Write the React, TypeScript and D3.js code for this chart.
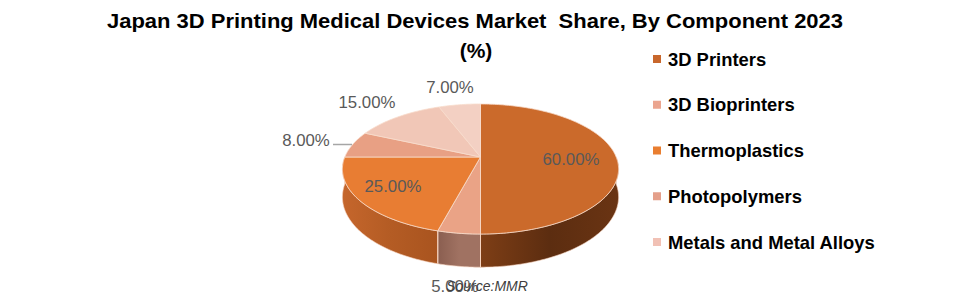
import React from "react";
import * as d3 from "d3";

const categories = ["3D Printers", "3D Bioprinters", "Thermoplastics", "Photopolymers", "Metals and Metal Alloys", ""];
const values = [60, 5, 25, 8, 15, 7];
const labels = ["60.00%", "5.00%", "25.00%", "8.00%", "15.00%", "7.00%"];
const legendItems = ["3D Printers", "3D Bioprinters", "Thermoplastics", "Photopolymers", "Metals and Metal Alloys"];
const topColors = ["#CB6A2B", "#EAA386", "#E87D33", "#E8A084", "#F1C7B7", "#F3D0C3"];
const legendColors = ["#C8672C", "#EBA58F", "#E97E30", "#E49F8A", "#F1C1B5"];
const sideStops: string[][] = [
  ["#7E3E16", "#5C2D10", "#6A3413"],
  ["#8A5E50", "#A07262", "#A07262"],
  ["#C5662C", "#B45C24", "#A9541F"],
  ["#C98A72", "#C98A72", "#C98A72"],
  ["#D2A898", "#D2A898", "#D2A898"],
  ["#D8AFA0", "#D8AFA0", "#D8AFA0"],
];
// label anchor positions (centres)
const labelPos: [number, number][] = [
  [571, 159],
  [455, 286],
  [393, 186],
  [306, 140],
  [367, 102],
  [450, 87],
];

const W = 961;
const H = 303;
const cx = 480.5;
const cy = 157;
const rx = 135.7;
const ry = 62.8;
const persp = 0.185;
const depth = 27;

function proj(theta: number, h = 0): [number, number] {
  const X = Math.sin(theta);
  const Z = Math.cos(theta);
  const w = 1 / (1 + persp * Z);
  return [cx + rx * X * w, cy - ry * Z * w + h * w];
}

function arcPoints(a0: number, a1: number, h = 0): [number, number][] {
  const n = Math.max(2, Math.ceil(((a1 - a0) / Math.PI) * 180));
  return d3.range(n + 1).map((i) => proj(a0 + ((a1 - a0) * i) / n, h));
}

const line = d3.line<[number, number]>().x((d) => d[0]).y((d) => d[1]);

export default function App() {
  const pie = d3
    .pie<number>()
    .sort(null)
    .startAngle(0)
    .endAngle(2 * Math.PI)(values);

  const front0 = Math.PI / 2;
  const front1 = (3 * Math.PI) / 2;

  const sides = pie
    .map((s, i) => {
      const a0 = Math.max(s.startAngle, front0);
      const a1 = Math.min(s.endAngle, front1);
      if (a1 <= a0) return null;
      const top = arcPoints(a0, a1, 0);
      const bottom = arcPoints(a0, a1, depth).reverse();
      const pts = [...top, ...bottom];
      const xs = pts.map((p) => p[0]);
      return { i, d: line(pts)! + "Z", x0: d3.min(xs)!, x1: d3.max(xs)!, a0, a1 };
    })
    .filter(Boolean) as { i: number; d: string; x0: number; x1: number; a0: number; a1: number }[];

  const tops = pie.map((s, i) => {
    const pts: [number, number][] = [[cx, cy], ...arcPoints(s.startAngle, s.endAngle, 0)];
    return { i, d: line(pts)! + "Z" };
  });

  const edgeAngles = pie
    .map((s) => s.startAngle)
    .filter((a) => a > front0 && a < front1 + 1e-6);

  const legendY = d3.scalePoint<string>().domain(legendItems).range([59, 242]);

  return (
    <svg width={W} height={H} style={{ position: "absolute", left: 0, top: 0, background: "#fff" }}>
      <defs>
        {sides.map((s) => (
          <linearGradient
            key={s.i}
            id={`side${s.i}`}
            gradientUnits="userSpaceOnUse"
            x1={s.x0}
            x2={s.x1}
            y1={0}
            y2={0}
          >
            <stop offset="0" stopColor={sideStops[s.i][0]} />
            <stop offset="0.5" stopColor={sideStops[s.i][1]} />
            <stop offset="1" stopColor={sideStops[s.i][2]} />
          </linearGradient>
        ))}
      </defs>
      <text
        x={475}
        y={28}
        textAnchor="middle"
        fontFamily="'Liberation Sans', Arial, sans-serif"
        fontWeight="bold"
        fontSize={21}
        textLength={736}
        lengthAdjust="spacingAndGlyphs"
        fill="#000"
        style={{ whiteSpace: "pre" }}
      >
        Japan 3D Printing Medical Devices Market  Share, By Component 2023
      </text>
      <text
        x={476}
        y={58}
        textAnchor="middle"
        fontFamily="'Liberation Sans', Arial, sans-serif"
        fontWeight="bold"
        fontSize={21}
        fill="#000"
      >
        (%)
      </text>

      {sides.map((s) => (
        <path key={s.i} d={s.d} fill={`url(#side${s.i})`} stroke="#F6D3BF" strokeWidth={0.6} />
      ))}
      {edgeAngles.map((a, k) => {
        const p0 = proj(a, 0);
        const p1 = proj(a, depth);
        return <line key={k} x1={p0[0]} y1={p0[1]} x2={p1[0]} y2={p1[1]} stroke="#F6D3BF" strokeWidth={1} />;
      })}
      {tops.map((t) => (
        <path key={t.i} d={t.d} fill={topColors[t.i]} stroke="#F8DCCB" strokeWidth={0.8} />
      ))}

      <line x1={333} y1={144.5} x2={352} y2={144.5} stroke="#A6A6A6" strokeWidth={1.5} />
      {labels.map((l, i) => (
        <text
          key={i}
          x={labelPos[i][0]}
          y={labelPos[i][1]}
          dy="0.36em"
          textAnchor="middle"
          fontFamily="'Liberation Sans', Arial, sans-serif"
          fontSize={16.8}
          fill="#595959"
        >
          {l}
        </text>
      ))}
      <text
        x={487}
        y={286}
        dy="0.36em"
        textAnchor="middle"
        fontFamily="'Liberation Sans', Arial, sans-serif"
        fontStyle="italic"
        fontSize={14}
        fill="#404040"
      >
        Source:MMR
      </text>

      {legendItems.map((name, i) => (
        <g key={name}>
          <rect x={653} y={legendY(name)! - 4} width={8} height={8} fill={legendColors[i]} />
          <text
            x={668}
            y={legendY(name)!}
            dy="0.36em"
            fontFamily="'Liberation Sans', Arial, sans-serif"
            fontWeight="bold"
            fontSize={18.4}
            fill="#000"
          >
            {name}
          </text>
        </g>
      ))}
    </svg>
  );
}
